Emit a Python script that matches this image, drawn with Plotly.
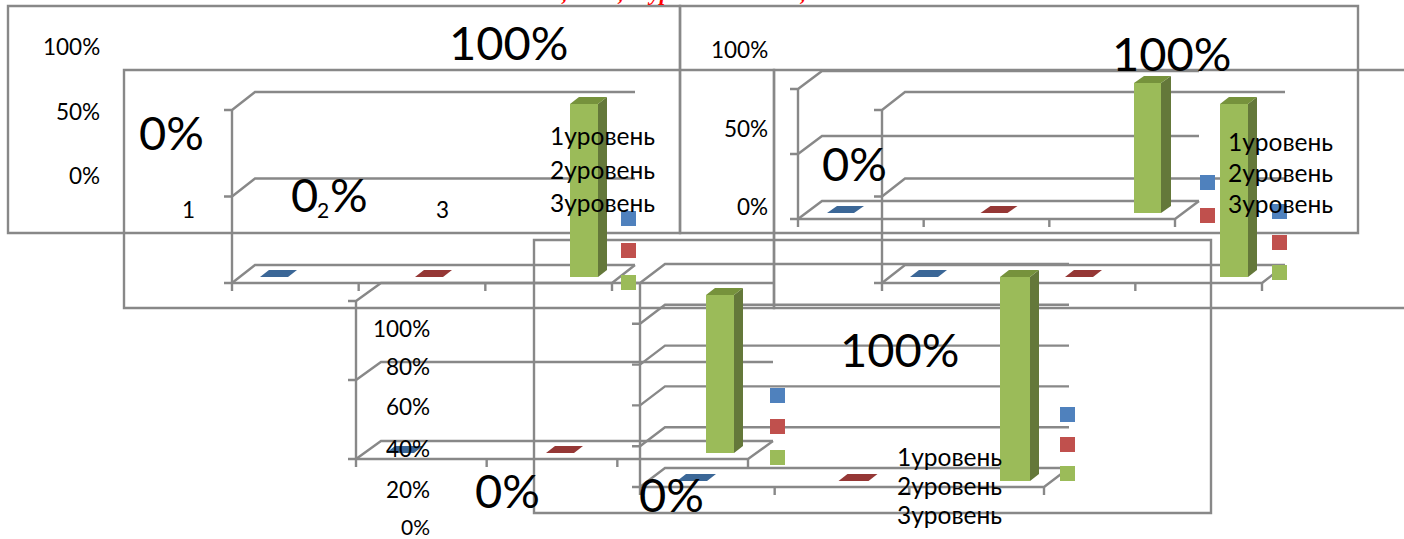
import plotly.graph_objects as go

W, H = 1404, 539

# ---- data ----
categories = [1, 2, 3]
series_names = ["1уровень", "2уровень", "3уровень"]
chart_values = [0, 0, 100]   # share per bar group as drawn: level 1, level 2, level 3
bar_colors = ["#4f81bd", "#c0504d", "#9bbb59"]
top_colors = ["#3b6797", "#953735", "#76923c"]
side_colors = ["#2c4d75", "#772c2a", "#64783a"]
line_color = "#888888"

# geometry of the five visible plot boxes, in page pixels
plots = [
    dict(x0=232, x1=612, floor=283, top=110, dx=23, dy=18, ticks=2, first=260, step=155, w=28, lift=6, ddx=9, ddy=7),
    dict(x0=798, x1=1175, floor=219, top=89, dx=24, dy=18, ticks=2, first=827, step=153.5, w=27, lift=6, ddx=10, ddy=7),
    dict(x0=882, x1=1262, floor=283, top=110, dx=23, dy=18, ticks=2, first=910, step=155, w=28, lift=6, ddx=9, ddy=7),
    dict(x0=356, x1=748, floor=459, top=301, dx=25, dy=18, ticks=2, first=386, step=160, w=28, lift=6, ddx=9, ddy=7),
    dict(x0=640, x1=1044, floor=487, top=283, dx=25, dy=19, ticks=5, first=677, step=161.5, w=30, lift=6, ddx=9, ddy=7),
]
frames = [(8, 6, 680, 233), (124, 70, 774, 308), (680, 6, 1358, 233), (774, 70, 1420, 308), (534, 240, 1211, 513)]
legend_marks = [
    (621, 211, 0), (621, 243, 1), (621, 275, 2),
    (1200, 175, 0), (1200, 208, 1),
    (1272, 204, 0), (1272, 235, 1), (1272, 265, 2),
    (770, 388, 0), (770, 419, 1), (770, 450, 2),
    (1060, 407, 0), (1060, 437, 1), (1060, 466, 2),
]
small = 22.5
lev = 24.5
big = 47
texts = [
    ("100%", 102, 47, small, "right"), ("50%", 102, 111, small, "right"), ("0%", 102, 175, small, "right"),
    ("1", 188, 209, small, "center"), ("3", 442, 209, small, "center"),
    ("100%", 508, 42, big, "center"), ("0%", 171, 132, big, "center"),
    ("0", 304, 194, big, "center"), ("2", 323, 209, 21, "center"), ("%", 349, 194, big, "center"),
    ("1уровень", 548, 136, lev, "left"), ("2уровень", 548, 169, lev, "left"), ("3уровень", 548, 202, lev, "left"),
    ("100%", 770, 49, small, "right"), ("50%", 770, 128, small, "right"), ("0%", 770, 207, small, "right"),
    ("100%", 1171, 53, big, "center"), ("0%", 855, 163, big, "center"),
    ("1уровень", 1226, 141, lev, "left"), ("2уровень", 1226, 172, lev, "left"), ("3уровень", 1226, 203, lev, "left"),
    ("100%", 432, 328, small, "right"), ("80%", 432, 366, small, "right"), ("60%", 432, 406, small, "right"),
    ("40%", 432, 448, small, "right"), ("20%", 432, 489, small, "right"), ("0%", 432, 526, 21, "right"),
    ("0%", 507, 490, big, "center"), ("0%", 671, 494, big, "center"), ("100%", 899, 349, big, "center"),
    ("1уровень", 895, 456, lev, "left"), ("2уровень", 895, 485, lev, "left"), ("3уровень", 895, 514, lev, "left"),
]

fig = go.Figure()
n = len(plots)
layout_axes = {}


def axis_name(prefix, i):
    return prefix if i == 1 else f"{prefix}{i}"


for k, p in enumerate(plots):
    scale = (p["floor"] - p["top"]) / 100.0      # px per percent
    centre = p["first"] + p["w"] / 2.0           # px of category 1
    X = lambda px, p=p, c=centre: categories[0] + (px - c) / p["step"]
    Y = lambda py, p=p, s=scale: (p["floor"] - py) / s
    ux, uy = 1.0 / p["step"], 1.0 / scale        # data units per px
    for idx in (k + 1, k + 1 + n):
        layout_axes[axis_name("xaxis", idx)] = dict(range=[X(0), X(W)], visible=False, domain=[0, 1],
                                                    anchor=axis_name("y", idx), fixedrange=True)
        layout_axes[axis_name("yaxis", idx)] = dict(range=[Y(H), Y(0)], visible=False, domain=[0, 1],
                                                    anchor=axis_name("x", idx), fixedrange=True)

    # grid: front tick, diagonal, back-wall line for every level; axis and floor
    gx, gy = [], []
    x0, x1 = X(p["x0"]), X(p["x1"])
    tx, ty = p["dx"] * ux, p["dy"] * uy
    for j in range(p["ticks"] + 1):
        level = 100.0 * j / p["ticks"]
        gx += [x0 - 8 * ux, x0, x0 + tx, x1 + tx, None]
        gy += [level, level, level + ty, level + ty, None]
    gx += [x0, x0, None, x0, x1, x1 + tx, None]
    gy += [0, 100, None, 0, 0, ty, None]
    for j in range(4):
        xt = x0 + (x1 - x0) * j / 3.0
        gx += [xt, xt, None]
        gy += [0, -8 * uy, None]
    fig.add_trace(go.Scatter(x=gx, y=gy, mode="lines", line=dict(color=line_color, width=2.4),
                             xaxis=axis_name("x", k + 1), yaxis=axis_name("y", k + 1),
                             showlegend=False, hoverinfo="skip"))

    # bars
    xa, ya = axis_name("x", k + 1 + n), axis_name("y", k + 1 + n)
    base = p["lift"] * uy
    hw = p["w"] / 2.0 * ux
    ddx, ddy = p["ddx"] * ux, p["ddy"] * uy
    for i, (c, v, name) in enumerate(zip(categories, chart_values, series_names)):
        if v > 0:
            fig.add_trace(go.Bar(x=[c], y=[v], base=[base], width=[2 * hw], name=name,
                                 marker=dict(color=bar_colors[i], line=dict(width=0)),
                                 xaxis=xa, yaxis=ya, showlegend=False, hoverinfo="skip"))
            fig.add_trace(go.Scatter(x=[c + hw, c + hw + ddx, c + hw + ddx, c + hw, c + hw],
                                     y=[base, base + ddy, base + v + ddy, base + v, base],
                                     mode="lines", fill="toself", fillcolor=side_colors[i], line=dict(width=0),
                                     xaxis=xa, yaxis=ya, showlegend=False, hoverinfo="skip"))
        fig.add_trace(go.Scatter(x=[c - hw, c + hw, c + hw + ddx, c - hw + ddx, c - hw],
                                 y=[base + v, base + v, base + v + ddy, base + v + ddy, base + v],
                                 mode="lines", fill="toself", fillcolor=top_colors[i], line=dict(width=0),
                                 xaxis=xa, yaxis=ya, showlegend=False, hoverinfo="skip"))

shapes = []
for l, t, r, b in frames:
    shapes.append(dict(type="rect", xref="paper", yref="paper", x0=l / W, x1=r / W, y0=1 - t / H, y1=1 - b / H,
                       line=dict(color=line_color, width=2.4), layer="below"))
for l, t, c in legend_marks:
    shapes.append(dict(type="rect", xref="paper", yref="paper", x0=l / W, x1=(l + 15) / W, y0=1 - t / H,
                       y1=1 - (t + 15) / H, fillcolor=bar_colors[c], line=dict(width=0), layer="above"))

annotations = [dict(text=s, x=x / W, y=1 - y / H, xref="paper", yref="paper", xanchor=a, yanchor="middle",
                    showarrow=False, font=dict(family="Lato, Noto Sans, sans-serif", size=sz, color="black"))
               for s, x, y, sz, a in texts]
for s, x, a in [("А,", 570, "right"), ("Б,", 626, "right"), ("уровень знаний,", 645, "left")]:
    annotations.append(dict(text=f"<b><i>{s}</i></b>", x=x / W, y=1, xref="paper", yref="paper",
                            xanchor=a, yanchor="bottom", yshift=-7, showarrow=False,
                            font=dict(family="Liberation Serif", size=22.5, color="#ff0000")))

fig.update_layout(width=W, height=H, margin=dict(l=0, r=0, t=0, b=0), paper_bgcolor="white", plot_bgcolor="rgba(0,0,0,0)",
                  showlegend=False, shapes=shapes, annotations=annotations, **layout_axes)
fig.write_html("out.html", config=dict(displayModeBar=False),
               post_script="document.body.style.margin='0';document.body.style.overflow='hidden';")
